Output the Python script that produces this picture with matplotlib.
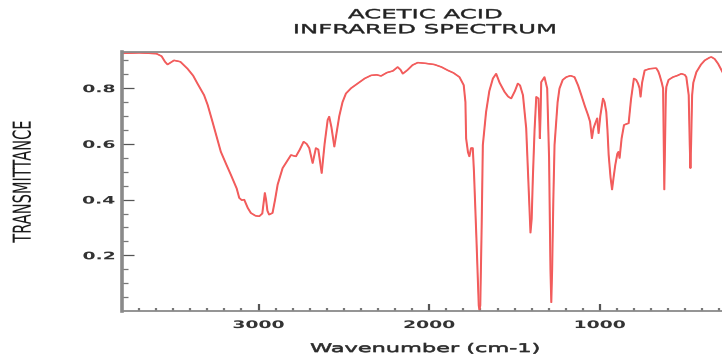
import numpy as np
import matplotlib
matplotlib.use("Agg")
import matplotlib.pyplot as plt
import matplotlib.patheffects as pe
from matplotlib.patheffects import AbstractPathEffect
from matplotlib.transforms import Affine2D
from matplotlib.ticker import FixedLocator, FormatStrFormatter


# acetic acid IR spectrum (cm-1, transmittance)
wavenumber = [
    3800, 3700, 3600, 3570, 3550, 3535, 3515, 3497, 3460, 3418,
    3385, 3360, 3321, 3300, 3272, 3223, 3190, 3164, 3130, 3115,
    3100, 3086, 3065, 3047, 3020, 2998, 2980, 2972, 2965, 2958,
    2950, 2940, 2920, 2905, 2890, 2861, 2812, 2783, 2760, 2738,
    2720, 2705, 2685, 2666, 2652, 2632, 2615, 2597, 2588, 2575,
    2558, 2545, 2529, 2510, 2490, 2460, 2421, 2380, 2343, 2310,
    2284, 2250, 2215, 2187, 2170, 2157, 2130, 2100, 2069, 2020,
    1972, 1930, 1893, 1860, 1825, 1800, 1790, 1786, 1775, 1767,
    1757, 1747, 1740, 1725, 1712, 1708, 1703, 1695, 1688, 1669,
    1650, 1629, 1610, 1590, 1561, 1540, 1522, 1500, 1483, 1470,
    1453, 1434, 1420, 1409, 1402, 1395, 1385, 1375, 1362, 1356,
    1354, 1350, 1346, 1327, 1311, 1300, 1292, 1287, 1282, 1275,
    1268, 1250, 1239, 1220, 1199, 1175, 1151, 1130, 1111, 1090,
    1072, 1060, 1049, 1040, 1033, 1018, 1010, 1000, 984, 975,
    965, 958, 951, 940, 931, 922, 912, 900, 893, 887,
    875, 861, 845, 834, 820, 803, 790, 779, 770, 764,
    755, 740, 710, 672, 660, 652, 640, 632, 628, 625,
    621, 616, 613, 600, 574, 550, 525, 505, 496, 487,
    482, 476, 472, 468, 462, 455, 437, 410, 388, 360,
    349, 330, 310, 290, 279, 260, 250,
]
transmittance = [
    0.925, 0.927, 0.924, 0.915, 0.895, 0.885, 0.893, 0.900, 0.895, 0.870,
    0.845, 0.817, 0.775, 0.740, 0.680, 0.572, 0.525, 0.489, 0.440, 0.406,
    0.398, 0.400, 0.370, 0.352, 0.342, 0.340, 0.350, 0.390, 0.424, 0.400,
    0.360, 0.346, 0.352, 0.400, 0.454, 0.513, 0.560, 0.555, 0.580, 0.608,
    0.600, 0.585, 0.531, 0.585, 0.580, 0.495, 0.600, 0.686, 0.698, 0.660,
    0.590, 0.640, 0.700, 0.750, 0.781, 0.800, 0.817, 0.835, 0.846, 0.848,
    0.844, 0.856, 0.862, 0.876, 0.866, 0.852, 0.865, 0.883, 0.892, 0.889,
    0.885, 0.876, 0.864, 0.855, 0.840, 0.811, 0.750, 0.620, 0.570, 0.555,
    0.585, 0.585, 0.500, 0.250, 0.020, 0.004, 0.020, 0.300, 0.596, 0.715,
    0.790, 0.835, 0.852, 0.820, 0.787, 0.770, 0.763, 0.790, 0.817, 0.810,
    0.775, 0.656, 0.450, 0.281, 0.330, 0.478, 0.650, 0.769, 0.763, 0.670,
    0.620, 0.700, 0.822, 0.840, 0.799, 0.550, 0.150, 0.031, 0.150, 0.400,
    0.596, 0.750, 0.799, 0.830, 0.840, 0.845, 0.840, 0.810, 0.775, 0.735,
    0.704, 0.680, 0.620, 0.655, 0.668, 0.692, 0.638, 0.700, 0.763, 0.750,
    0.715, 0.650, 0.561, 0.480, 0.436, 0.480, 0.525, 0.565, 0.572, 0.549,
    0.620, 0.668, 0.672, 0.674, 0.760, 0.835, 0.830, 0.817, 0.800, 0.769,
    0.820, 0.864, 0.870, 0.872, 0.860, 0.846, 0.820, 0.799, 0.600, 0.436,
    0.600, 0.780, 0.805, 0.830, 0.840, 0.845, 0.852, 0.848, 0.840, 0.800,
    0.775, 0.600, 0.513, 0.600, 0.775, 0.820, 0.858, 0.885, 0.900, 0.910,
    0.912, 0.905, 0.888, 0.865, 0.852, 0.830, 0.820,
]

x_major = [3000, 2000, 1000]
x_minor = list(range(3700, 200, -100))
y_major = [0.2, 0.4, 0.6, 0.8]
y_minor = [round(0.05 * k, 2) for k in range(1, 19)]


class WideText(AbstractPathEffect):
    """Draw text glyphs stretched sideways about an anchor point,
    optionally with an outline of the same colour to thicken them."""

    def __init__(self, sx=1.95, anchor="center", edge=0.0):
        super().__init__()
        self._sx = sx
        self._anchor = anchor
        self._edge = edge

    def draw_path(self, renderer, gc, tpath, affine, rgbFace=None):
        ext = tpath.get_extents(affine)
        if self._anchor == "right":
            x0 = ext.x1
        elif self._anchor == "left":
            x0 = ext.x0
        else:
            x0 = 0.5 * (ext.x0 + ext.x1)
        wide = Affine2D().translate(-x0, 0).scale(self._sx, 1).translate(x0, 0)
        gc0 = renderer.new_gc()
        gc0.copy_properties(gc)
        if self._edge > 0 and rgbFace is not None:
            gc0.set_linewidth(self._edge)
            gc0.set_foreground(rgbFace)
        renderer.draw_path(gc0, tpath, affine + wide, rgbFace)
        gc0.restore()


W, H = 722, 359
fig = plt.figure(figsize=(W / 100, H / 100), dpi=100)
ax = fig.add_axes([122 / W, 48 / H, 606 / W, 259 / H])

ax.plot(wavenumber, transmittance, color="#f25c5c", lw=1.0,
        path_effects=[pe.Stroke(offset=(0.45, 0)), pe.Normal()])

ax.set_xlim(3800, 250)
ax.set_ylim(0, 0.93)

ax.xaxis.set_major_locator(FixedLocator(x_major))
ax.xaxis.set_minor_locator(FixedLocator(x_minor))
ax.yaxis.set_major_locator(FixedLocator(y_major))
ax.yaxis.set_minor_locator(FixedLocator(y_minor))
ax.xaxis.set_major_formatter(FormatStrFormatter("%d"))
ax.yaxis.set_major_formatter(FormatStrFormatter("%.1f"))

ax.tick_params(axis="x", which="major", direction="in", length=5, width=1.6,
               color="#555555", labelcolor="#333333", labelsize=7.5, pad=6.5,
               top=False)
ax.tick_params(axis="x", which="minor", direction="in", length=2.5, width=1.6,
               color="#777777", top=False)
ax.tick_params(axis="y", which="major", direction="in", length=8.5, width=0.9,
               color="#555555", labelcolor="#333333", labelsize=7.5, pad=5,
               right=False)
ax.tick_params(axis="y", which="minor", direction="in", length=4.3, width=0.9,
               color="#777777", right=False)

for side, lw in [("left", 2.6), ("bottom", 1.3), ("top", 1.3), ("right", 1.3)]:
    ax.spines[side].set_linewidth(lw)
    ax.spines[side].set_color("#8a8a8a")

ax.set_title("ACETIC ACID\nINFRARED SPECTRUM", fontsize=9, color="#222222",
             pad=13.5, path_effects=[WideText(edge=0.35)])

ax.set_xlabel("Wavenumber (cm-1)", fontsize=8.5, color="#2b2b2b",
              path_effects=[WideText(sx=1.9, edge=0.5)])
ax.xaxis.set_label_coords(0.5, -41 / 259)
ax.xaxis.label.set_va("baseline")

ax.set_ylabel("TRANSMITTANCE", fontsize=10.5, color="#1a1a1a",
              path_effects=[WideText(sx=1.7)])
ax.yaxis.set_label_coords((22.5 - 122) / 606, 0.5)
ax.yaxis.label.set_va("center")

for lbl in ax.get_xticklabels():
    lbl.set_fontweight("bold")
    lbl.set_path_effects([WideText(sx=1.8)])
for lbl in ax.get_yticklabels():
    lbl.set_fontweight("bold")
    lbl.set_path_effects([WideText(sx=1.8, anchor="right")])

fig.savefig("out.png", dpi=100, facecolor="white")
